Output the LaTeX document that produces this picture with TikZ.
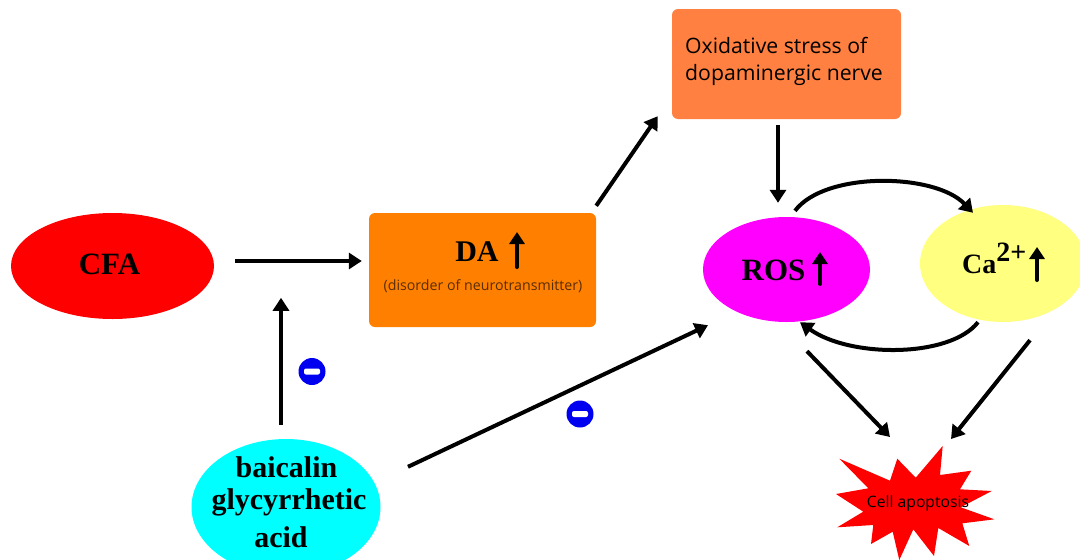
\documentclass[tikz,border=0pt]{standalone}
\usepackage{fontspec}
\setmainfont{Liberation Serif}
\newfontfamily\labelsans{Open Sans}
\usetikzlibrary{arrows.meta,shapes.geometric,calc}
\definecolor{daorange}{RGB}{255,128,0}
\definecolor{oxorange}{RGB}{255,128,64}
\definecolor{rospink}{RGB}{255,0,255}
\definecolor{cayellow}{RGB}{255,255,128}
\definecolor{drugcyan}{RGB}{0,255,255}
\definecolor{minusblue}{RGB}{0,0,240}
\definecolor{dimtext}{RGB}{90,45,0}
\tikzset{
  arr/.style={draw=black,line width=4pt,-{Triangle[length=13pt,width=16pt]}},
  uparrow/.style={draw=black,line width=4pt,line cap=round,-{Triangle[length=12pt,width=15pt]}},
  blob/.style={ellipse,draw=none,inner sep=0pt},
  rbox/.style={rectangle,rounded corners=6pt,draw=none,inner sep=0pt},
  title/.style={font=\fontsize{31}{31}\selectfont\bfseries,inner sep=0pt,text=black},
  drugtext/.style={font=\fontsize{30}{30}\selectfont\bfseries,inner sep=0pt,text=black},
  minus/.style={circle,fill=minusblue,minimum size=27pt,inner sep=0pt,draw=none},
  minusbar/.style={rectangle,rounded corners=2pt,fill=white,minimum width=16pt,minimum height=6pt,inner sep=0pt,draw=none},
}
\begin{document}
\begin{tikzpicture}[x=1pt,y=-1pt]
\useasboundingbox (0,0) rectangle (1080,560);
\fill[white] (0,0) rectangle (1080,560);
\begin{scope}
\clip (0,0) rectangle (1080,560);
\node[blob,fill=red,minimum width=203pt,minimum height=106pt] (cfa) at (112.5,266) {};
\node[rbox,fill=daorange,minimum width=227pt,minimum height=114pt] (da) at (482.5,270) {};
\node[rbox,fill=oxorange,minimum width=229pt,minimum height=110pt] (ox) at (786.5,64) {};
\node[blob,fill=rospink,minimum width=167pt,minimum height=105pt] (ros) at (786.5,269.5) {};
\node[blob,fill=cayellow,minimum width=166pt,minimum height=117pt] (ca) at (1003,263.5) {};
\node[blob,fill=drugcyan,minimum width=189pt,minimum height=136pt] (drug) at (286,507) {};
\path[fill=red] (942.7,446) -- (940,475) -- (971.3,470.7) -- (960,489.3) -- (991.7,491) -- (960.7,507.3) -- (994.3,519.3) -- (962.3,523.3) -- (969.3,546) -- (938.3,528) -- (934,556) -- (913.3,529.3) -- (899.3,560) -- (892.7,531.7) -- (871,544) -- (873.3,525) -- (837.3,527.3) -- (863.3,511.7) -- (836,494) -- (868.3,488.3) -- (839.3,458.7) -- (890,480.7) -- (897.3,458.7) -- (915.7,477.7) -- cycle;
\end{scope}
\coordinate (apopA) at (890,437);
\coordinate (apopB) at (951,439);

\node[title] (cfat) at (109.5,264) {CFA};
\node[title,font=\fontsize{30}{30}\selectfont\bfseries] (dat) at (477,252) {DA};
\node[title] (rost) at (773.5,270) {ROS};
\node[title,font=\fontsize{28}{28}\selectfont\bfseries,anchor=base west] (cat) at (962,273) {Ca\raisebox{12pt}{2+}};
\node[font=\fontsize{14.2}{14.2}\selectfont\labelsans,inner sep=0pt,text=dimtext] (dis) at (483,286) {(disorder of neurotransmitter)};
\node[font=\fontsize{21.2}{27.5}\selectfont\labelsans,align=left,anchor=west,inner sep=0pt] (oxt) at (685,61.5) {Oxidative stress of\\dopaminergic nerve};
\node[drugtext] (d1) at (286.5,467) {baicalin};
\node[drugtext] (d2) at (289,502) {glycyrrhetic};
\node[drugtext] (d3) at (281,537) {acid};
\node[font=\fontsize{15.7}{15.7}\selectfont\labelsans,inner sep=0pt] (apt) at (918,503) {Cell apoptosis};

\draw[uparrow] (517,267) -- (517,232);
\draw[uparrow] (820,284) -- (820,252);
\draw[uparrow] (1037,280) -- (1037,247);

\draw[arr] ([xshift=21pt,yshift=5pt]cfa.east) -- ([xshift=-7pt,yshift=9pt]da.west);
\draw[arr] ([xshift=-5pt,yshift=14pt]drug.north) -- ([xshift=-5pt,yshift=141pt]drug.north);
\draw[arr] ([yshift=7pt]da.north east) -- ([xshift=-14pt,yshift=3pt]ox.south west);
\draw[arr] ([xshift=-8.5pt,yshift=-6pt]ox.south) -- ([xshift=-8.5pt,yshift=14pt]ros.north);
\draw[arr] ([xshift=122pt,yshift=-28pt]drug.north) -- ([xshift=-78.5pt,yshift=-3pt]ros.south);
\draw[arr] ([xshift=8.5pt,yshift=6pt]ros.north) .. controls (825,171) and (935,173) .. ([xshift=-30pt,yshift=-8pt]ca.north);
\draw[arr] ([xshift=-25pt]ca.south) .. controls (950,358) and (850,358) .. ([xshift=13.5pt]ros.south);
\draw[arr] ([xshift=20.5pt,yshift=-29pt]ros.south) -- (apopA);
\draw[arr] ([xshift=27pt,yshift=-18pt]ca.south) -- (apopB);

\node[minus] (m1) at (312,371.5) {};
\node[minusbar] (m1b) at (m1) {};
\node[minus] (m2) at (580,414) {};
\node[minusbar] (m2b) at (m2) {};
\end{tikzpicture}
\end{document}
